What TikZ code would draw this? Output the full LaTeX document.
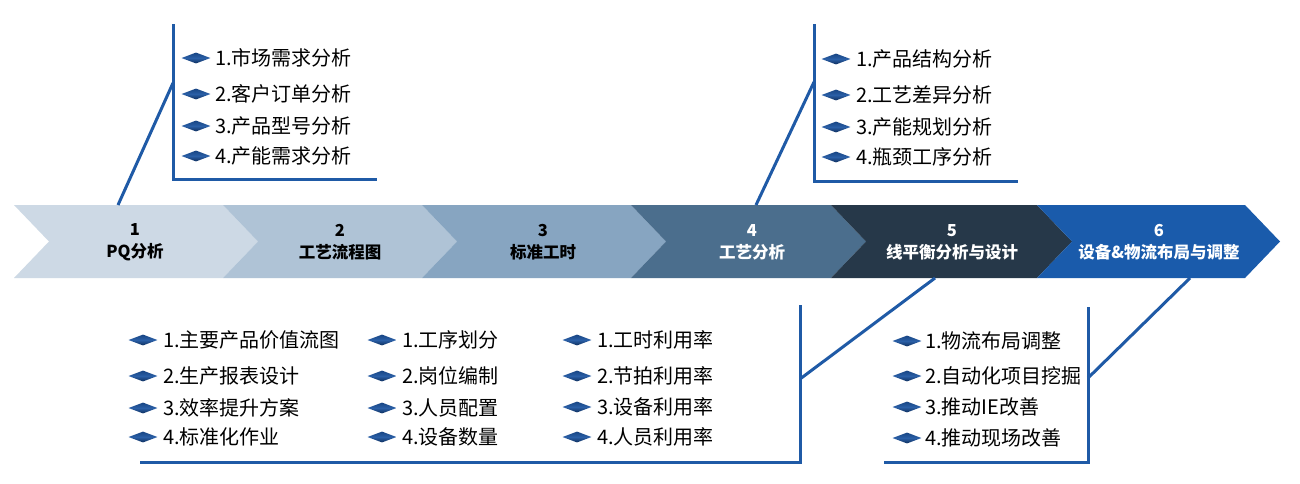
\documentclass[tikz,border=0pt]{standalone}
\usepackage{fontspec}
\setmainfont{Noto Sans CJK SC}
\usetikzlibrary{shapes.geometric}
\definecolor{cA}{HTML}{CDD9E5}
\definecolor{cB}{HTML}{AFC3D6}
\definecolor{cC}{HTML}{87A5C1}
\definecolor{cD}{HTML}{4B6E8D}
\definecolor{cE}{HTML}{263849}
\definecolor{cF}{HTML}{1A5BAB}
\definecolor{lineblue}{HTML}{1F5AA6}
\definecolor{gemtop}{HTML}{184584}
\definecolor{gemmid}{HTML}{2A5FA6}
\definecolor{gembot}{HTML}{0F2F5E}
\tikzset{
  bline/.style={draw=lineblue, line width=3pt},
  item/.style={anchor=west, inner sep=0pt, font=\fontsize{20}{22}\selectfont, text=black},
  gem/.style={diamond, minimum width=29pt, minimum height=11pt, inner sep=0pt,
    top color=gemtop, bottom color=gembot, middle color=gemmid, draw=none},
  clab/.style={align=center, inner sep=0pt, font=\bfseries\fontsize{16.5}{22}\selectfont},
}
\begin{document}
\begin{tikzpicture}[x=1pt,y=-1pt]
\useasboundingbox (0,0) rectangle (1300,483);
\fill[white] (0,0) rectangle (1300,483);
% chevrons
\foreach \L/\R/\c in {14/223/cA,223/422/cB,422/631/cC,631/831/cD,831/1037/cE,1037/1245/cF}{
  \fill[\c] (\L,205) -- (\R,205) -- (\R+35,241.5) -- (\R,278) -- (\L,278) -- (\L+35,241.5) -- cycle;
}
\node[clab, text=black] (c1) at (135,242) {1\\PQ分析};
\node[clab, text=black] (c2) at (340,242) {2\\工艺流程图};
\node[clab, text=black] (c3) at (543,242) {3\\标准工时};
\node[clab, text=white] (c4) at (752,242) {4\\工艺分析};
\node[clab, text=white] (c5) at (952,242) {5\\线平衡分析与设计};
\node[clab, text=white] (c6) at (1159,242) {6\\设备\&物流布局与调整};
% bracket coordinates
\coordinate (a0) at (118,205); \coordinate (a1) at (173,83);
\coordinate (a2) at (173,24); \coordinate (a3) at (173,179); \coordinate (a4) at (377,179);
\coordinate (b0) at (756,205); \coordinate (b1) at (814,82);
\coordinate (b2) at (814,24); \coordinate (b3) at (814,181); \coordinate (b4) at (1018,181);
\coordinate (d0) at (935,278); \coordinate (d1) at (800,379);
\coordinate (d2) at (800,305); \coordinate (d3) at (800,462); \coordinate (d4) at (140,462);
\coordinate (e0) at (1190,278); \coordinate (e1) at (1088,378);
\coordinate (e2) at (1088,307); \coordinate (e3) at (1088,462); \coordinate (e4) at (884,462);
\draw[bline] (a0) -- (a1);
\draw[bline] (a2) -- (a3) -- (a4);
\draw[bline] (b0) -- (b1);
\draw[bline] (b2) -- (b3) -- (b4);
\draw[bline] (d0) -- (d1);
\draw[bline] (d2) -- (d3) -- (d4);
\draw[bline] (e0) -- (e1);
\draw[bline] (e2) -- (e3) -- (e4);
% items
\foreach \n/\y/\t in {1/58/1.市场需求分析,2/94/2.客户订单分析,3/126/3.产品型号分析,4/156/4.产能需求分析}{
  \node[gem] (ga\n) at (196,\y) {};
  \node[item] (ta\n) at (215,\y) {\t};
}
\foreach \n/\y/\t in {1/59/1.产品结构分析,2/95/2.工艺差异分析,3/127/3.产能规划分析,4/157/4.瓶颈工序分析}{
  \node[gem] (gb\n) at (836,\y) {};
  \node[item] (tb\n) at (856,\y) {\t};
}
\foreach \n/\y/\t in {1/340/1.主要产品价值流图,2/376/2.生产报表设计,3/408/3.效率提升方案,4/437/4.标准化作业}{
  \node[gem] (gc\n) at (143,\y) {};
  \node[item] (tc\n) at (163,\y) {\t};
}
\foreach \n/\y/\t in {1/340/1.工序划分,2/376/2.岗位编制,3/408/3.人员配置,4/437/4.设备数量}{
  \node[gem] (gd\n) at (382,\y) {};
  \node[item] (td\n) at (402,\y) {\t};
}
\foreach \n/\y/\t in {1/340/1.工时利用率,2/376/2.节拍利用率,3/407/3.设备利用率,4/437/4.人员利用率}{
  \node[gem] (ge\n) at (577,\y) {};
  \node[item] (te\n) at (597,\y) {\t};
}
\foreach \n/\y/\t in {1/341/1.物流布局调整,2/376/2.自动化项目挖掘,3/407/3.推动IE改善,4/438/4.推动现场改善}{
  \node[gem] (gf\n) at (907,\y) {};
  \node[item] (tf\n) at (925,\y) {\t};
}
\end{tikzpicture}
\end{document}
